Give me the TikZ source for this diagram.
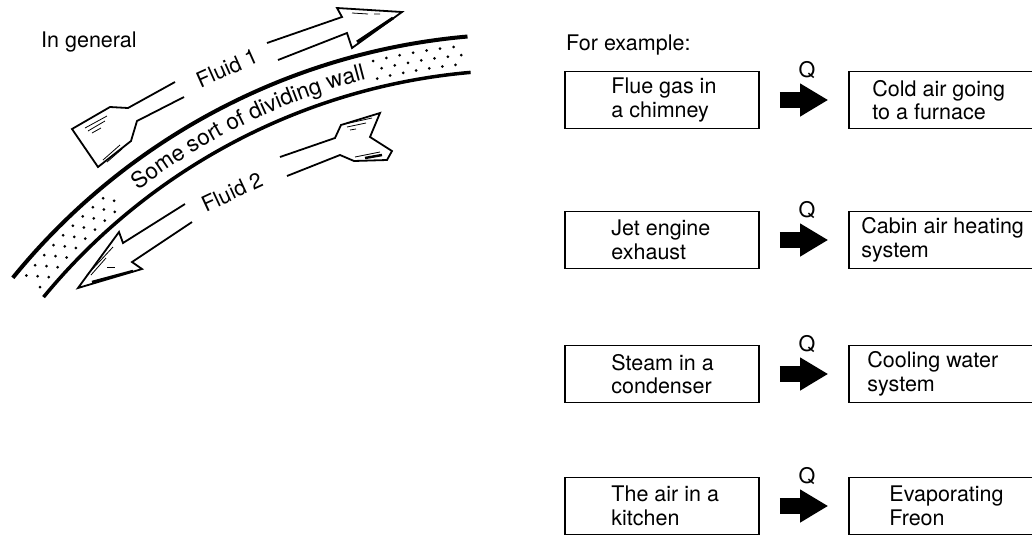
\documentclass[tikz,border=0pt]{standalone}
\usepackage{fontspec}
\setmainfont{TeX Gyre Heros}
\usetikzlibrary{arrows.meta, calc, decorations.text}
\newcommand{\diagfont}{\fontsize{21.5}{23.5}\selectfont}
\newcommand{\wallfont}{\fontsize{22.5}{24}\selectfont}
\tikzset{
	exbox/.style={draw=black, line width=1.6pt, minimum height=57pt},
	srcbox/.style={exbox, minimum width=194pt},
	dstbox/.style={exbox, minimum width=192pt},
	boxtext/.style={anchor=west, align=left, inner sep=0pt, font=\diagfont},
	heatarrow/.style={-{Triangle[length=28pt, width=31pt]}, line width=16pt, shorten <=20pt, shorten >=20pt},
	qlabel/.style={font=\diagfont, yshift=30pt, xshift=3pt},
	heading/.style={font=\diagfont, anchor=west, inner sep=0pt},
	fluidlabel/.style={font=\diagfont},
	wallline/.style={line width=4pt},
	flowline/.style={line width=1.8pt, line join=miter},
	% shading strokes inside the arrow heads
	hatch/.style={line width=0.8pt},
}

\begin{document}
\begin{tikzpicture}[x=1pt, y=-1pt]
	\useasboundingbox (0,0) rectangle (1032,536);
	\clip (0,0) rectangle (1032,536);

	% general case
	\node[heading] (general) at (41,42) {In general};
	\coordinate (c) at (525,694);
	\draw[wallline] ([shift={(-140.9:660)}]c) arc[start angle=-140.9, end angle=-95, radius=660];
	\draw[wallline, line width=3.5pt] ([shift={(-140.5:624)}]c) arc[start angle=-140.5, end angle=-95, radius=624];
	\foreach \a in {-140,-138.8,...,-129.5}
		\foreach \r/\o in {633/0,642/0.6,651/0}
			\fill ([shift={(\a+\o:\r)}]c) circle[radius=1.5];
	\foreach \a in {-103.5,-102.3,...,-95.5}
		\foreach \r/\o in {633/0,642/0.6,651/0}
			\fill ([shift={(\a+\o:\r)}]c) circle[radius=1.5];
	\path[decorate, decoration={text along path, text={|\wallfont|Some sort of dividing wall}, text align=center}]
		([shift={(-129:635)}]c) arc[start angle=-129, end angle=-103, radius=635];

	\draw[flowline] (175,82) -- (128,108) -- (110,107) -- (72,129) -- (98,167) -- (131,141) -- (137,121) -- (184,97);
	\draw[flowline] (267,43) -- (342,17) -- (337,8) -- (402,12) -- (352,48) -- (347,33) -- (278,60);
	\draw[flowline] (280,157) -- (335,138) -- (341,125) -- (380,113) -- (370,137) -- (392,151) -- (387,160) -- (354,161) -- (340,155) -- (287,176);
	\draw[flowline] (185,204) -- (123,243) -- (119,232) -- (78,288) -- (142,269) -- (132,262) -- (192,222);
	\node[fluidlabel, rotate=24] (fluid1) at (227,68) {Fluid 1};
	\node[fluidlabel, rotate=25] (fluid2) at (232,192) {Fluid 2};

	\draw[hatch] (85,128) -- (107,116) (88,131) -- (105,121) (92,133) -- (101,128);
	\draw[hatch] (103,160) -- (120,145) (107,162) -- (122,149);
	\draw[hatch, line width=3pt] (357,42) -- (393,18);
	\draw[hatch] (352,13) -- (368,14) (374,14) -- (380,14);
	\draw[hatch] (345,124) -- (372,118) (347,127) -- (366,123) (350,130) -- (356,129);
	\draw[hatch] (355,157) -- (380,152);
	\draw[hatch, line width=2.5pt] (365,158) -- (382,155);
	\draw[hatch] (87,275) -- (113,247) (91,275) -- (106,258);
	\draw[hatch, line width=2.5pt] (92,282) -- (133,271);
	\draw[hatch] (107,267) -- (115,267);

	% examples
	\node[heading] (example) at (566,45) {For example:};
	\foreach \y/\src/\dst/\ind [count=\i] in {
			100/{Flue gas in\\a chimney}/{Cold air going\\to a furnace}/24,
			240/{Jet engine\\exhaust}/{Cabin air heating\\system}/13,
			374/{Steam in a\\condenser}/{Cooling water\\system}/19,
			506/{The air in a\\kitchen}/{Evaporating\\Freon}/41}
	{
		\node[srcbox] (src\i) at (662,\y) {};
		\node[dstbox] (dst\i) at (945,\y) {};
		\node[boxtext] (srctext\i) at ([xshift=47pt]src\i.west) {\src};
		\node[boxtext] (dsttext\i) at ([xshift=\ind pt]dst\i.west) {\dst};
		\draw[heatarrow] (src\i) -- (dst\i) node[qlabel, midway] (q\i) {Q};
	}
\end{tikzpicture}
\end{document}
